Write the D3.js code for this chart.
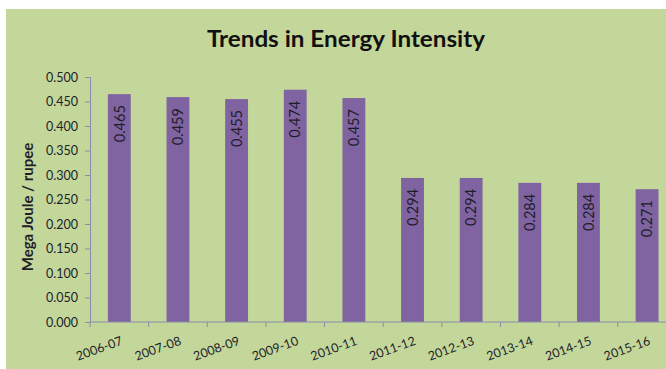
<!DOCTYPE html>
<html>
<head>
<meta charset="utf-8">
<script src="https://cdn.jsdelivr.net/npm/d3@7"></script>
<style>
  html, body { margin: 0; padding: 0; background: #fff; }
  svg { display: block; }
</style>
</head>
<body>
<script>
// Energy intensity by fiscal year (MJ per rupee)
const years = ["2006-07", "2007-08", "2008-09", "2009-10", "2010-11",
               "2011-12", "2012-13", "2013-14", "2014-15", "2015-16"];
const intensity = [0.465, 0.459, 0.455, 0.474, 0.457, 0.294, 0.294, 0.284, 0.284, 0.271];
const yTicks = [0, 0.05, 0.1, 0.15, 0.2, 0.25, 0.3, 0.35, 0.4, 0.45, 0.5];

const W = 666, H = 369;
const font = "Lato, 'Open Sans', sans-serif";
const textColor = "#1e1e2a";
const axisColor = "#8a8cab";

const svg = d3.select("body").append("svg").attr("width", W).attr("height", H);

// chart area background
svg.append("rect")
  .attr("x", 6).attr("y", 9).attr("width", W - 6).attr("height", H - 9)
  .attr("fill", "#c4d79b");

const x = d3.scaleBand().domain(years).range([90, 676.4]).padding(0);
const y = d3.scaleLinear().domain([0, 0.5]).range([322, 77]);
const barW = x.bandwidth() * 0.39;

// title
svg.append("text")
  .attr("x", 346).attr("y", 47)
  .attr("text-anchor", "middle")
  .attr("font-family", font).attr("font-weight", "bold")
  .attr("font-size", 23).attr("fill", "#111")
  .attr("textLength", 278).attr("lengthAdjust", "spacingAndGlyphs")
  .text("Trends in Energy Intensity");

// bars
svg.append("g").selectAll("rect")
  .data(intensity)
  .join("rect")
  .attr("x", (d, i) => x(years[i]) + x.bandwidth() / 2 - barW / 2)
  .attr("y", d => y(d))
  .attr("width", barW)
  .attr("height", d => y(0) - y(d))
  .attr("fill", "#8064a2");

// value labels, rotated inside the top of each bar
svg.append("g").selectAll("text")
  .data(intensity)
  .join("text")
  .attr("transform", (d, i) =>
    `translate(${x(years[i]) + x.bandwidth() / 2},${y(d) + 11}) rotate(-90)`)
  .attr("text-anchor", "end")
  .attr("dy", "0.36em")
  .attr("font-family", font).attr("font-size", 14.5)
  .attr("fill", textColor)
  .text(d => d.toFixed(3));

// y axis
const yAxis = svg.append("g")
  .attr("transform", "translate(90,0)")
  .call(d3.axisLeft(y).tickValues(yTicks).tickFormat(d3.format(".3f"))
    .tickSize(5).tickPadding(7));
yAxis.select(".domain").attr("stroke", axisColor);
yAxis.selectAll(".tick line").attr("stroke", axisColor);
yAxis.selectAll(".tick text")
  .attr("font-family", font).attr("font-size", 12.5).attr("fill", textColor);

// x axis with ticks on category boundaries
const xAxisG = svg.append("g").attr("transform", `translate(0,${y(0)})`);
xAxisG.append("line")
  .attr("x1", 90).attr("x2", W).attr("y1", 0).attr("y2", 0)
  .attr("stroke", axisColor);
xAxisG.selectAll("line.tick")
  .data(years)
  .join("line")
  .attr("class", "tick")
  .attr("x1", d => x(d)).attr("x2", d => x(d))
  .attr("y1", 0).attr("y2", 5)
  .attr("stroke", axisColor);
xAxisG.selectAll("text")
  .data(years)
  .join("text")
  .attr("transform", d => `translate(${x(d) + x.bandwidth() / 2 + 1},${14}) rotate(-20)`)
  .attr("text-anchor", "end")
  .attr("dy", "0.7em")
  .attr("font-family", font).attr("font-size", 12.5)
  .attr("fill", textColor)
  .text(d => d);

// y axis title
svg.append("text")
  .attr("transform", "translate(33,207) rotate(-90)")
  .attr("text-anchor", "middle")
  .attr("font-family", font).attr("font-weight", "bold")
  .attr("font-size", 15).attr("fill", textColor)
  .text("Mega Joule / rupee");
</script>
</body>
</html>
